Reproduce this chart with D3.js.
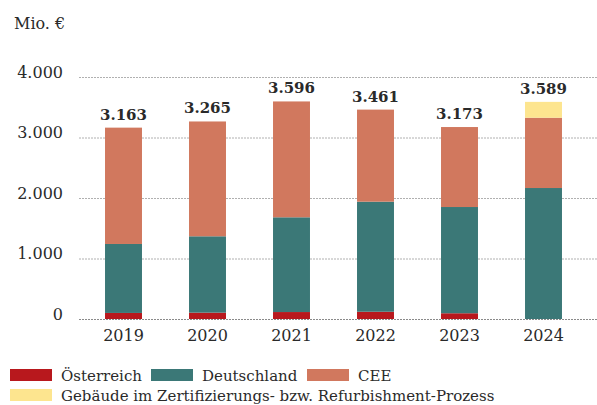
<!DOCTYPE html>
<html>
<head>
<meta charset="utf-8">
<script src="https://cdn.jsdelivr.net/npm/d3@7"></script>
<style>
  html, body { margin: 0; padding: 0; background: #fff; }
  svg { display: block; }
  text { font-family: "DejaVu Serif", serif; fill: #2a2a2a; }
</style>
</head>
<body>
<svg id="chart" width="597" height="405"></svg>
<script>
// Portfolio value by region, in million euros
const years = ["2019", "2020", "2021", "2022", "2023", "2024"];
const oesterreich = [100, 105, 115, 120, 95, 0];
const deutschland = [1140, 1262, 1566, 1819, 1756, 2165];
const cee = [1923, 1898, 1915, 1522, 1322, 1162];
const refurbishment = [0, 0, 0, 0, 0, 262];
const totals = [3163, 3265, 3596, 3461, 3173, 3589];
const yTicks = [0, 1000, 2000, 3000, 4000];

const seriesNames = ["Österreich", "Deutschland", "CEE", "Gebäude im Zertifizierungs- bzw. Refurbishment-Prozess"];
const seriesKeys = ["at", "de", "cee", "ref"];
const colors = ["#b8181d", "#3b7877", "#d1785e", "#fde58f"];

const rows = years.map((y, i) => ({
  year: y, at: oesterreich[i], de: deutschland[i], cee: cee[i], ref: refurbishment[i], total: totals[i]
}));

const svg = d3.select("#chart");
const fmt = v => d3.format(",")(v).replace(/,/g, ".");

const x = d3.scaleBand().domain(years).range([81.5, 585.5]).paddingInner(0.56).paddingOuter(0.28);
const y = d3.scaleLinear().domain([0, 4000]).range([319, 77]);

// unit label
svg.append("text").attr("x", 14).attr("y", 29).attr("font-size", 16).text("Mio. €");

// dotted gridlines
svg.append("g").selectAll("line").data(yTicks).join("line")
  .attr("x1", 79).attr("x2", 597)
  .attr("y1", d => y(d) + 0.5).attr("y2", d => y(d) + 0.5)
  .attr("stroke", d => d === 0 ? "#8a8a8a" : "#b0b0b0")
  .attr("stroke-width", 1)
  .attr("stroke-dasharray", "2,1");

// y axis labels
const yAxis = d3.axisLeft(y).tickValues(yTicks).tickFormat(fmt).tickSize(0).tickPadding(0);
const yg = svg.append("g").attr("transform", "translate(63,0)").call(yAxis);
yg.select(".domain").remove();
yg.selectAll("text").attr("font-size", 16).attr("font-family", "DejaVu Serif, serif")
  .attr("fill", "#2a2a2a").attr("dy", "0.02em");

// stacked bars
const stack = d3.stack().keys(seriesKeys)(rows);
svg.append("g").selectAll("g").data(stack).join("g")
  .attr("fill", (d, i) => colors[i])
  .selectAll("rect").data(d => d).join("rect")
  .attr("x", d => x(d.data.year))
  .attr("width", x.bandwidth())
  .attr("y", d => y(d[1]))
  .attr("height", d => y(d[0]) - y(d[1]));

// totals above bars
svg.append("g").selectAll("text").data(rows).join("text")
  .attr("x", d => x(d.year) + x.bandwidth() / 2)
  .attr("y", d => y(d.total) - 8)
  .attr("text-anchor", "middle")
  .attr("font-size", 15).attr("font-weight", "bold")
  .attr("fill", "#1e1e1e")
  .text(d => fmt(d.total));

// x axis labels
const xAxis = d3.axisBottom(x).tickSize(0).tickPadding(0);
const xg = svg.append("g").attr("transform", "translate(0,330)").call(xAxis);
xg.select(".domain").remove();
xg.selectAll("text").attr("font-size", 16).attr("font-family", "DejaVu Serif, serif")
  .attr("fill", "#2a2a2a").attr("dy", "0.71em");

// legend
const legendPos = [
  { sx: 10, ty: 381 }, { sx: 151, ty: 381 }, { sx: 307, ty: 381 }, { sx: 10, ty: 401 }
];
const lg = svg.append("g").selectAll("g").data(seriesNames).join("g");
lg.append("rect")
  .attr("x", (d, i) => legendPos[i].sx)
  .attr("y", (d, i) => legendPos[i].ty - 12)
  .attr("width", 42).attr("height", 12)
  .attr("fill", (d, i) => colors[i]);
lg.append("text")
  .attr("x", (d, i) => legendPos[i].sx + 51)
  .attr("y", (d, i) => legendPos[i].ty)
  .attr("font-size", 15)
  .text(d => d);
</script>
</body>
</html>
